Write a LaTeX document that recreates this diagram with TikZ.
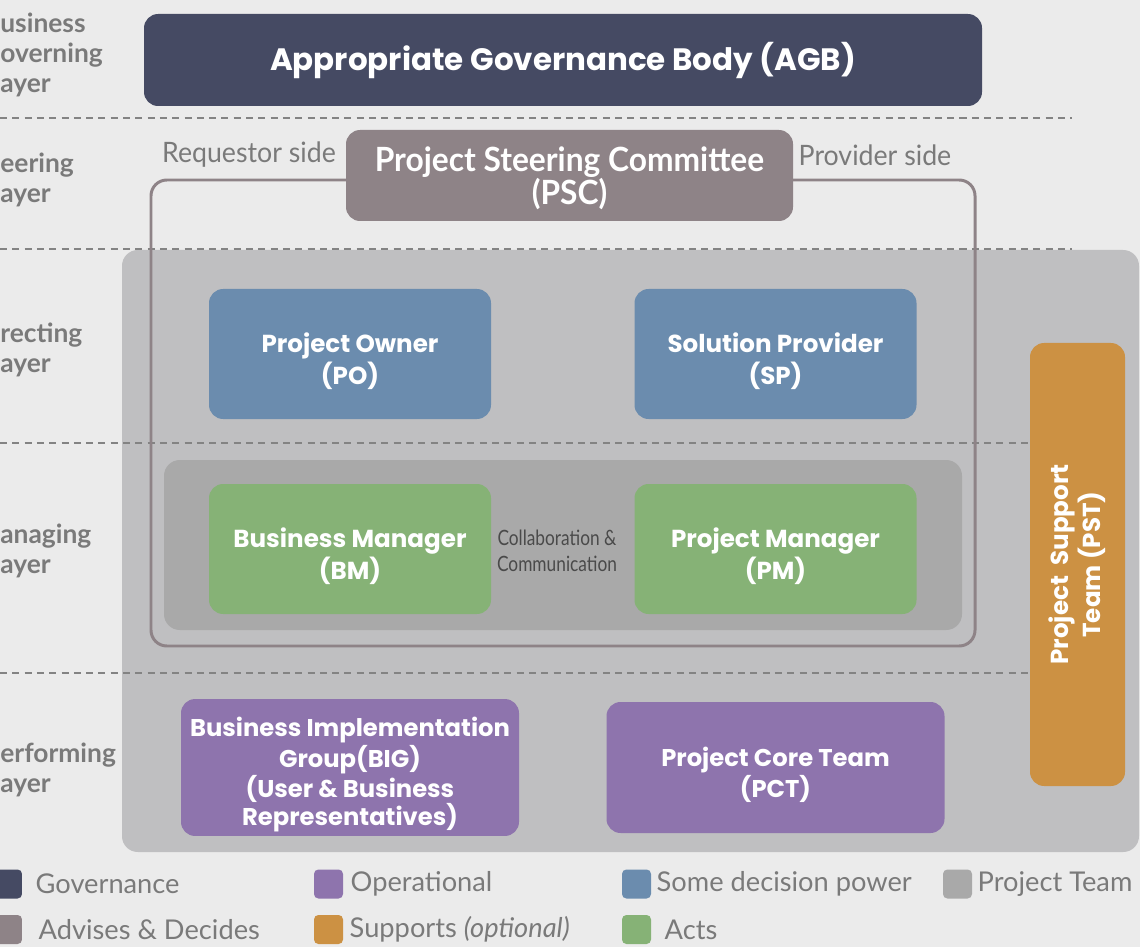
\documentclass[tikz,border=0pt]{standalone}
\usepackage{fontspec}
\setmainfont{Lato}
\newfontfamily\boxfont{Poppins}
\newfontfamily\narrowfont[FakeStretch=0.95]{Lato}
\newfontfamily\collabfont[FakeStretch=0.82]{Lato}
\usetikzlibrary{positioning}
\newcommand\boxstrut{\rule{0pt}{19.5pt}}
\definecolor{cbg}{HTML}{EBEBEB}
\definecolor{cgov}{HTML}{454A63}
\definecolor{cadv}{HTML}{8E8387}
\definecolor{cdec}{HTML}{6B8CAE}
\definecolor{cact}{HTML}{86B276}
\definecolor{cop}{HTML}{8E74AD}
\definecolor{csup}{HTML}{CC9143}
\definecolor{cteam}{HTML}{BFBFC1}
\definecolor{cmng}{HTML}{A9A9A9}
\definecolor{clabel}{HTML}{7A7A7A}
\definecolor{cdash}{HTML}{838383}
\definecolor{ccollab}{HTML}{4A4A4A}
\tikzset{
  box/.style={rounded corners=8pt, align=center, text=white, inner sep=2pt, minimum width=5.64cm, minimum height=2.60cm, font=\boxfont\bfseries\fontsize{14}{18}\selectfont},
  kgov/.style={box, fill=cgov, minimum width=16.76cm, minimum height=1.84cm, font=\boxfont\bfseries\fontsize{17.6}{20}\selectfont},
  kadv/.style={box, fill=cadv, minimum width=8.94cm, minimum height=1.82cm, font=\narrowfont\bfseries\fontsize{19}{19}\selectfont, text depth=0pt},
  kdec/.style={box, fill=cdec}, kact/.style={box, fill=cact},
  kop/.style={box, fill=cop, minimum width=6.76cm, minimum height=2.62cm, font=\boxfont\bfseries\fontsize{13.8}{16.2}\selectfont},
  ksup/.style={box, fill=csup, minimum width=8.86cm, minimum height=1.90cm, rotate=90},
  layer/.style={anchor=west, align=left, inner sep=0pt, text=clabel, font=\bfseries\fontsize{15}{17}\selectfont},
  side/.style={inner sep=0pt, text=clabel, font=\narrowfont\fontsize{16}{18}\selectfont},
  sep/.style={cdash, line width=1.1pt, dash pattern=on 4pt off 3pt},
  legsq/.style={rounded corners=2.5pt, minimum size=0.58cm, inner sep=0pt},
  legtxt/.style={inner sep=0pt, text=clabel, font=\fontsize{15.5}{18}\selectfont},
}

\begin{document}
\begin{tikzpicture}
    \fill[cbg] (0,0) rectangle (22.80,-18.94);
    \useasboundingbox (0,0) rectangle (22.80,-18.94);
    \node[kgov] (agb) at (11.26,-1.20) {Appropriate Governance Body (AGB)};
    \fill[cteam, rounded corners=9pt] (2.44,-5.00) rectangle (22.78,-17.04);
    \fill[cmng, rounded corners=9pt] (3.28,-9.20) rectangle (19.24,-12.60);
    \coordinate (s1a) at (0,-2.36); \coordinate (s1b) at (21.44,-2.36);
    \coordinate (s2a) at (0,-4.98); \coordinate (s2b) at (21.44,-4.98);
    \coordinate (s3a) at (0,-8.86); \coordinate (s3b) at (21.44,-8.86);
    \coordinate (s4a) at (0,-13.46); \coordinate (s4b) at (21.44,-13.46);
    \foreach \i in {1,...,4}
      \draw[sep] (s\i a) -- (s\i b);
    \draw[cadv, line width=1.7pt, rounded corners=9pt] (3.02,-3.60) rectangle (19.50,-12.92);
    \node[kadv] (psc) at (11.39,-3.51) {Project Steering Committee\\(PSC)};
    \node[side] (req) at (4.98,-3.10) {Requestor side};
    \node[side] (prov) at (17.50,-3.10) {Provider side};
    \node[kdec] (po) at (7.00,-7.08) {\boxstrut Project Owner\\(PO)};
    \node[kdec] (sp) at (15.51,-7.08) {\boxstrut Solution Provider\\(SP)};
    \node[kact] (bm) at (7.00,-10.98) {\boxstrut Business Manager\\(BM)};
    \node[kact] (pm) at (15.51,-10.98) {\boxstrut Project Manager\\(PM)};
    \node[align=center, inner sep=0pt, text=ccollab, font=\collabfont\fontsize{12}{15}\selectfont] (collab) at (11.14,-11.02) {Collaboration \&\\Communication};
    \node[kop] (big) at (7.00,-15.35) {\boxstrut Business Implementation\\Group(BIG)\\(User \& Business\\Representatives)};
    \node[kop] (pct) at (15.51,-15.35) {\boxstrut Project Core Team\\(PCT)};
    \node[ksup] (pst) at (21.55,-11.29) {Project\ \ Support\\Team (PST)};
    \node[layer] (lgov) at (0,-1.10) {usiness\\overning\\ayer};
    \node[layer] (lsteer) at (0,-3.60) {eering\\ayer};
    \node[layer] (ldir) at (0,-7.00) {recting\\ayer};
    \node[layer] (lmng) at (0,-11.02) {anaging\\ayer};
    \node[layer] (lperf) at (0,-15.40) {erforming\\ayer};
    \node[legsq, fill=cgov] (qgov) at (0.15,-17.68) {};
    \node[legsq, fill=cadv] (qadv) at (0.15,-18.59) {};
    \node[legsq, fill=cop] (qop) at (6.57,-17.68) {};
    \node[legsq, fill=csup] (qsup) at (6.57,-18.59) {};
    \node[legsq, fill=cdec] (qdec) at (12.73,-17.68) {};
    \node[legsq, fill=cact] (qact) at (12.73,-18.59) {};
    \node[legsq, fill=cmng] (qteam) at (19.15,-17.68) {};
    \node[legtxt, right=0.26cm of qgov] (tgov) {Governance};
    \node[legtxt, right=0.32cm of qadv] (tadv) {Advises \& Decides};
    \node[legtxt, right=0.14cm of qop] (top) {Operational};
    \node[legtxt, right=0.12cm of qsup] (tsup) {Supports \textit{(optional)}};
    \node[legtxt, right=0.10cm of qdec] (tdec) {Some decision power};
    \node[legtxt, right=0.26cm of qact] (tact) {Acts};
    \node[legtxt, right=0.10cm of qteam] (tteam) {Project Team};
  \end{tikzpicture}
\end{document}
